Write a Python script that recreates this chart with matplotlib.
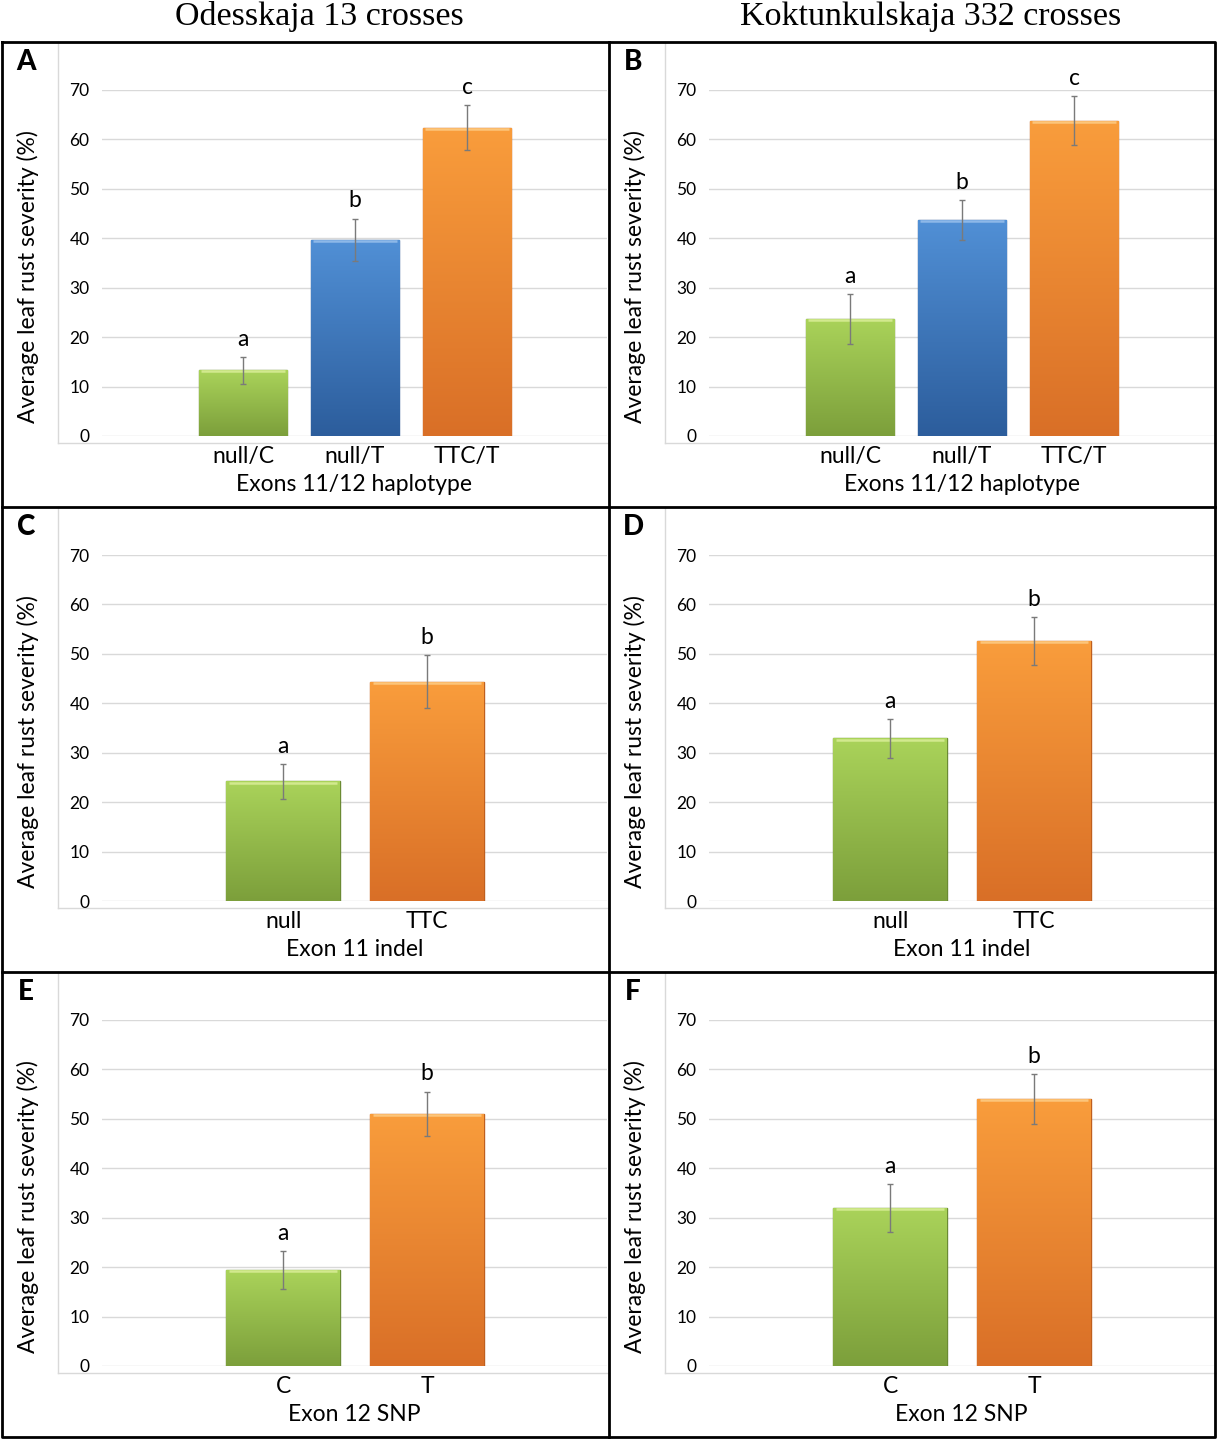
import numpy as np
import matplotlib.pyplot as plt
from matplotlib.colors import LinearSegmentedColormap

plt.rcParams['font.family'] = ['Lato', 'DejaVu Sans']

# ---- data ----
titles = ['Odesskaja 13 crosses', 'Koktunkulskaja 332 crosses']
ylabel = 'Average leaf rust severity (%)'

cats_A = ['null/C', 'null/T', 'TTC/T']
vals_A = [13.3, 39.7, 62.4]
err_A = [2.7, 4.3, 4.6]
let_A = ['a', 'b', 'c']

cats_B = ['null/C', 'null/T', 'TTC/T']
vals_B = [23.7, 43.7, 63.8]
err_B = [5.0, 4.0, 4.9]
let_B = ['a', 'b', 'c']

cats_C = ['null', 'TTC']
vals_C = [24.2, 44.4]
err_C = [3.5, 5.3]
let_C = ['a', 'b']

cats_D = ['null', 'TTC']
vals_D = [32.9, 52.6]
err_D = [3.9, 4.8]
let_D = ['a', 'b']

cats_E = ['C', 'T']
vals_E = [19.4, 51.0]
err_E = [3.8, 4.5]
let_E = ['a', 'b']

cats_F = ['C', 'T']
vals_F = [32.0, 54.0]
err_F = [4.8, 5.0]
let_F = ['a', 'b']

xlabels = ['Exons 11/12 haplotype', 'Exon 11 indel', 'Exon 12 SNP']
yticks = [0, 10, 20, 30, 40, 50, 60, 70]

# colours: (top, bottom, edge, highlight)
green = ('#aad35a', '#7c9f3b', '#6b8b33', '#d2e98e')
blue = ('#5190d6', '#2c5d9c', '#2a5690', '#8db8e8')
orange = ('#f99d3c', '#d96f27', '#bf5f1e', '#fcc57a')

panels = [
    ('A', 0, 0, cats_A, vals_A, err_A, let_A, [green, blue, orange]),
    ('B', 1, 0, cats_B, vals_B, err_B, let_B, [green, blue, orange]),
    ('C', 0, 1, cats_C, vals_C, err_C, let_C, [green, orange]),
    ('D', 1, 1, cats_D, vals_D, err_D, let_D, [green, orange]),
    ('E', 0, 2, cats_E, vals_E, err_E, let_E, [green, orange]),
    ('F', 1, 2, cats_F, vals_F, err_F, let_F, [green, orange]),
]

W, H = 1217, 1439
fig = plt.figure(figsize=(W / 100, H / 100), dpi=100)


def fx(x):
    return x / W


def fy(y):
    return 1 - y / H


grad = np.linspace(0, 1, 256).reshape(-1, 1)

for name, col, row, cats, vals, errs, lets, cols in panels:
    pl = 2 + col * 607
    pt = 42 + row * 465

    # light chart-area frame (drawn first, behind everything)
    fig.add_artist(plt.Line2D([fx(pl + 56), fx(pl + 56)], [fy(pt), fy(pt + 401)],
                              color='#d9d9d9', lw=1, zorder=0))
    fig.add_artist(plt.Line2D([fx(pl + 56), fx(pl + 607)], [fy(pt + 401), fy(pt + 401)],
                              color='#d9d9d9', lw=1, zorder=0))

    ax = fig.add_axes([fx(pl + 100), fy(pt + 394), 505 / W, 346 / H])
    n = len(cats)
    x = np.arange(n)
    bars = ax.bar(x, vals, width=0.79, color='none', zorder=3)
    for b, c in zip(bars, cols):
        cmap = LinearSegmentedColormap.from_list('g', [c[0], c[1]])
        bx, by = b.get_x(), b.get_y()
        bw, bh = b.get_width(), b.get_height()
        im = ax.imshow(grad, cmap=cmap, aspect='auto', zorder=3,
                       extent=[bx, bx + bw, by, by + bh], origin='upper')
        im.set_clip_path(b)
        b.set_edgecolor(c[2])
        b.set_linewidth(1.0)
        ax.hlines(by + bh - 0.25, bx + 0.02, bx + bw - 0.02, color=c[3], lw=1.8, zorder=4)
    ax.errorbar(x, vals, yerr=errs, fmt='none', ecolor='#7a7a7a', elinewidth=1,
                capsize=2, capthick=1, zorder=5)
    for xi, v, e, t in zip(x, vals, errs, lets):
        ax.text(xi, v + e + 3.6, t, ha='center', va='center', fontsize=16.5, zorder=6)
    ax.set_xlim(-1.26, n + 0.25)
    ax.set_ylim(0, 70)
    ax.set_yticks(yticks)
    ax.set_xticks(x)
    ax.set_xticklabels(cats, fontsize=16.5)
    ax.tick_params(axis='y', length=0, pad=9, labelsize=12.5)
    ax.tick_params(axis='x', length=0, pad=7)
    ax.grid(axis='y', color='#d9d9d9', lw=1, zorder=0)
    for s in ax.spines.values():
        s.set_visible(False)
    ax.set_facecolor('none')
    ax.set_xlabel(xlabels[row], fontsize=16.5, labelpad=5)

    fig.text(fx(pl + 26), fy(pt + 235), ylabel, rotation=90, ha='center', va='center',
             fontsize=16.5)
    fig.text(fx(pl + 24), fy(pt + 20), name, ha='center', va='center', fontsize=20,
             fontweight='black')

# panel borders
k = dict(color='black', lw=2)
fig.add_artist(plt.Line2D([fx(2), fx(1215), fx(1215), fx(2), fx(2)],
                          [fy(42), fy(42), fy(1437), fy(1437), fy(42)], **k))
fig.add_artist(plt.Line2D([fx(609), fx(609)], [fy(42), fy(1437)], **k))
for yy in [507, 972]:
    fig.add_artist(plt.Line2D([fx(2), fx(1215)], [fy(yy), fy(yy)], **k))

fig.text(fx(319), fy(25), titles[0], ha='center', va='baseline', fontsize=24.5,
         family='Liberation Serif')
fig.text(fx(931), fy(25), titles[1], ha='center', va='baseline', fontsize=24.5,
         family='Liberation Serif')

fig.savefig('out.png', dpi=100)
